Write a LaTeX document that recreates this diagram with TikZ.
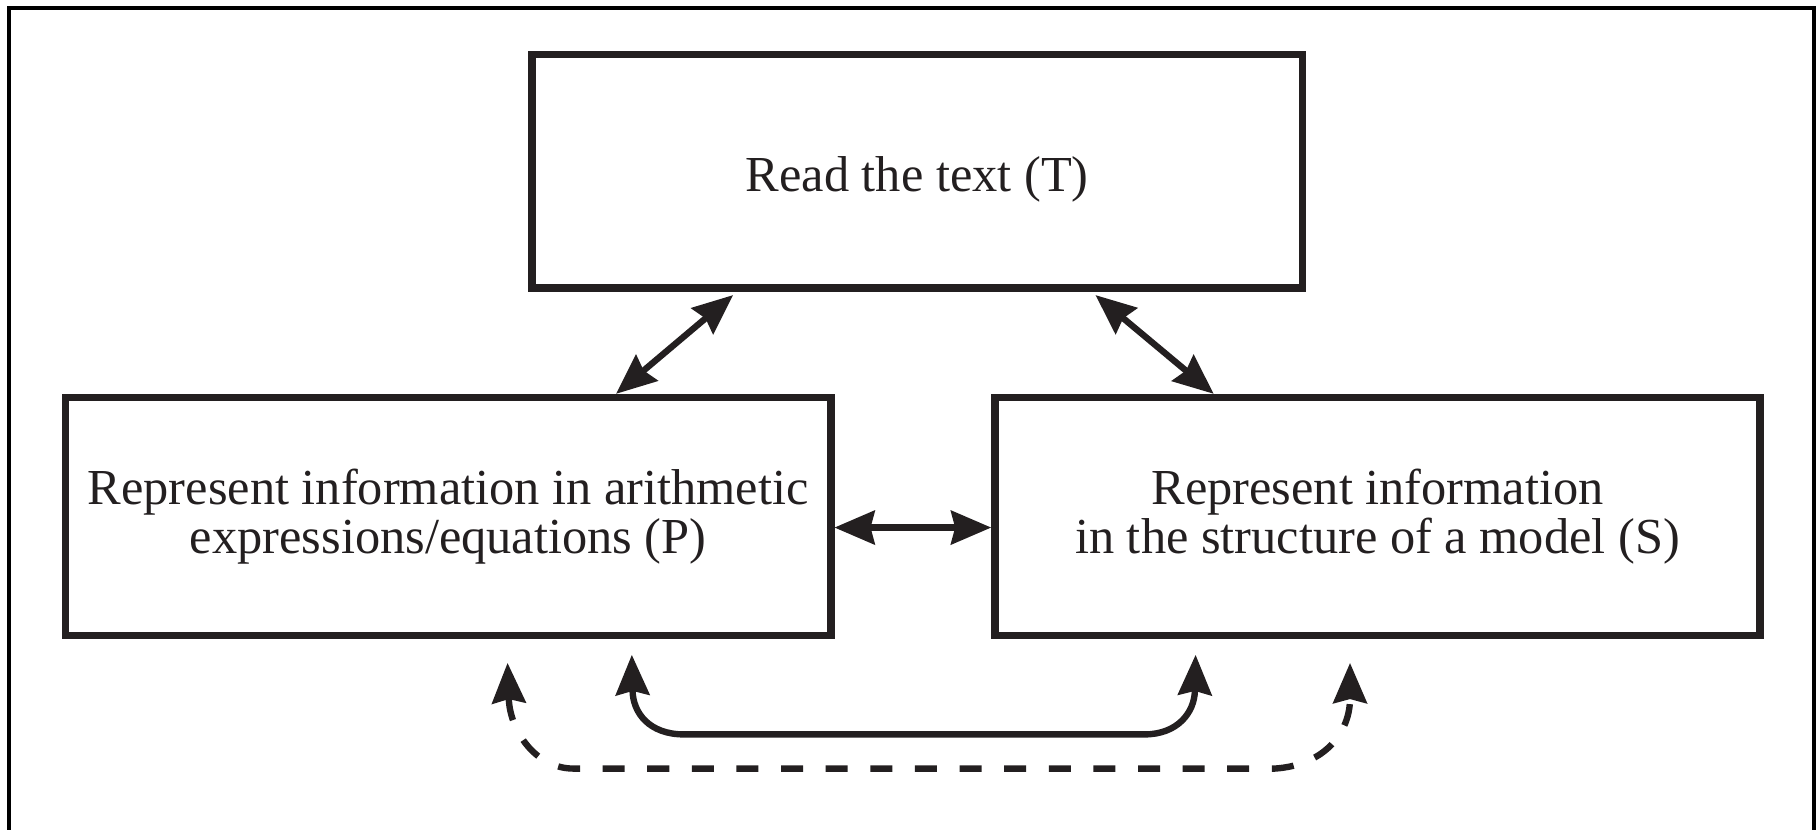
\documentclass[tikz,border=0pt]{standalone}
\usepackage{fontspec}
\setmainfont{Liberation Serif}
\usetikzlibrary{arrows.meta,calc}
\definecolor{ink}{HTML}{231F20}
\begin{document}
\begin{tikzpicture}[x=1pt,y=-1pt,
  >={Stealth[length=35pt,width=30pt,inset=4pt,line width=1.5pt]},
  box/.style={draw=ink, line width=6.5pt, align=center, inner sep=0pt,
    text=ink, font=\fontsize{43.5}{43}\selectfont},
  link/.style={draw=ink, fill=none, line width=5.5pt, <->},
  dashlink/.style={link, dash pattern=on 19pt off 19.5pt},
  frame/.style={draw=black, line width=3.5pt}]
\useasboundingbox (0,0) rectangle (1568,716);

% outer frame (open at the bottom edge of the page)
\draw[frame] (8,760) -- (8,7) -- (1565,7) -- (1565,760);

% the three steps
\node[box, minimum width=665pt, minimum height=201.5pt,
      text height=35pt, text depth=0pt] (T) at (791.5,147.75) {Read the text (T)};
\node[box, minimum width=660.5pt, minimum height=205.5pt] (P) at (386.75,445.75)
  {Represent information in arithmetic\\expressions/equations (P)};
\node[box, minimum width=660.5pt, minimum height=205.5pt] (S) at (1188.75,445.75)
  {Represent information\\in the structure of a model (S)};

% links between the steps
\draw[link] ([xshift=145pt]P.north) -- ([xshift=-159pt,yshift=-3pt]T.south);
\draw[link] ([xshift=154pt,yshift=-3pt]T.south) -- ([xshift=-141.5pt]S.north);
\draw[link, line width=6.5pt] ([yshift=-9.5pt]P.east) -- ([yshift=-9.5pt]S.west);

% end points of the two loops below the boxes
\coordinate (a1) at ([xshift=158.5pt,yshift=-13.5pt]P.south);
\coordinate (a2) at ([xshift=-157pt,yshift=-13.5pt]S.south);
\coordinate (d1) at ([xshift=51.25pt,yshift=-20.5pt]P.south);
\coordinate (d2) at ([xshift=-23.75pt,yshift=-20.5pt]S.south);

% solid loop
\draw[link] (a1) .. controls ($(a1)+(1,50)$) and ($(a1)+(15,68.5)$) .. ($(a1)+(45,68.5)$)
  -- ($(a2)+(-44,68.5)$) .. controls ($(a2)+(-16,68.5)$) and ($(a2)+(-1,50)$) .. (a2);

% dashed loop
\draw[dashlink] (d1) .. controls ($(d1)+(2,58)$) and ($(d1)+(24,91)$) .. ($(d1)+(57,91)$)
  -- ($(d2)+(-65,91)$) .. controls ($(d2)+(-20,88)$) and ($(d2)+(0,58)$) .. (d2);
\end{tikzpicture}
\end{document}
